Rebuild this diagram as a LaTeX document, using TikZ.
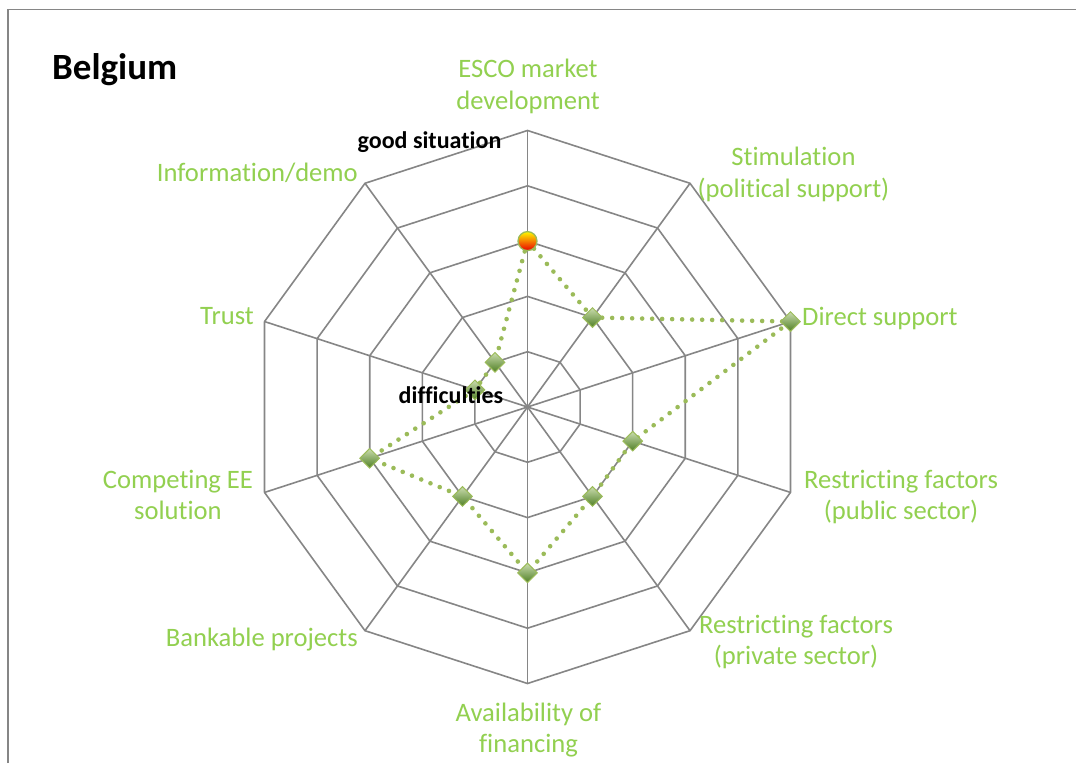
\documentclass[tikz,border=0pt]{standalone}
\usepackage{fontspec}
\setmainfont{Carlito}[Ligatures=NoCommon]
\usetikzlibrary{shapes.geometric}
\definecolor{gridgray}{HTML}{868686}
\definecolor{labgreen}{HTML}{92D050}
\definecolor{linegreen}{HTML}{9BBB59}
\definecolor{diamtop}{HTML}{CADCAE}
\definecolor{diambot}{HTML}{4F7F25}
\begin{document}
\begin{tikzpicture}[x=1pt,y=1pt,
  gridline/.style={draw=gridgray,line width=1.6pt,line join=round},
  dotline/.style={draw=linegreen,line width=4.6pt,line cap=round,dash pattern=on 0pt off 10pt},
  dmark/.style={diamond,aspect=1,inner sep=0pt,minimum width=20pt,minimum height=20pt,
     draw=linegreen,line width=1pt,top color=diamtop,bottom color=diambot},
  cmark/.style={circle,inner sep=0pt,minimum size=19pt,draw=linegreen,line width=1.3pt,
     top color=yellow!95!orange,bottom color=red!92!black},
  axlabel/.style={text=labgreen,inner sep=0pt,align=center,font={\fontsize{26.6}{31.5}\selectfont}},
  blabel/.style={text=black,inner sep=0pt,font={\bfseries\fontsize{24}{28}\selectfont}}]
\useasboundingbox (0,0) rectangle (1076,763);
\fill[white] (0,0) rectangle (1076,763);
% frame
\draw[gridgray,line width=1.4pt] (8,0) -- (8,753.5) -- (1076,753.5);
\coordinate (C) at (527.5,356);
\begin{scope}[shift={(C)}]
  \foreach \k in {1,...,5} {
    \pgfmathsetmacro{\r}{\k*55.3}
    \draw[gridline] (90:\r) \foreach \i in {1,...,9} { -- ({90-36*\i}:\r) } -- cycle;
  }
  \foreach \i in {0,...,9} {
    \coordinate (ax\i) at ({90-36*\i}:276.5);
    \draw[gridline] (0,0) -- (ax\i);
  }
  \foreach \v [count=\i from 0] in {3,2,5,2,2,3,2,3,1,1} {
    \coordinate (p\i) at ({90-36*\i}:{\v*55.3});
  }
\end{scope}
\draw[dotline] (p0) -- (p1) -- (p2) -- (p3) -- (p4) -- (p5) -- (p6) -- (p7) -- (p8) -- (p9) -- (p0);
\node[cmark] (m0) at (p0) {};
\foreach \i in {1,...,9} \node[dmark] (m\i) at (p\i) {};
% labels
\node[axlabel,anchor=base] (l0) at (528,653.5) {ESCO market\\development};
\node[axlabel,anchor=base] (l1) at (793.5,565.8) {Stimulation\\(political support)};
\node[axlabel,anchor=base west] (l2) at (802,437.3) {Direct support};
\node[axlabel,anchor=base] (l3) at (901,243) {Restricting factors\\(public sector)};
\node[axlabel,anchor=base] (l4) at (796,98) {Restricting factors\\(private sector)};
\node[axlabel,anchor=base] (l5) at (528.5,10.3) {Availability of\\financing};
\node[axlabel,anchor=base east] (l6) at (358,116) {Bankable projects};
\node[axlabel,anchor=base east] (l8) at (254,438) {Trust};
\node[axlabel,anchor=base] (l7) at (178,243) {Competing EE\\solution};
\node[axlabel,anchor=base east] (l9) at (358,581.3) {Information/demo};
\node[blabel,anchor=base] (gs) at (429.5,614) {good situation};
\node[blabel,anchor=base] (df) at (451,359) {difficulties};
\node[text=black,inner sep=0pt,anchor=base west,font={\bfseries\fontsize{37}{40}\selectfont}] (title) at (52,683) {Belgium};
\end{tikzpicture}
\end{document}
